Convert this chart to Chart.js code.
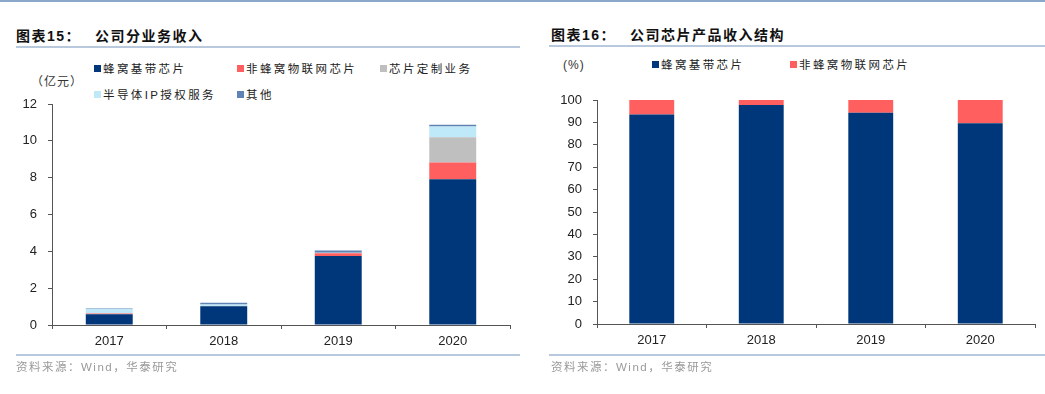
<!DOCTYPE html>
<html>
<head>
<meta charset="utf-8">
<script src="https://cdn.jsdelivr.net/npm/chart.js@4/dist/chart.umd.min.js"></script>
<style>
  body { margin: 0; background: #fff; width: 1045px; height: 394px; position: relative; overflow: hidden;
         font-family: "Liberation Sans", "Noto Sans CJK SC", sans-serif; }
  .abs { position: absolute; }
  .topline { left: 0; top: 0; width: 1045px; height: 2px; background: #8aa6c8; }
  .title { font-size: 14px; font-weight: bold; color: #111; letter-spacing: 1.5px; line-height: 16px; }
  .title span { margin-left: 14px; }
  .rule { height: 2px; background: #b9c9dd; }
  .source { font-size: 11.5px; color: #9a9a9a; letter-spacing: 1.5px; line-height: 14px; }
  .unit { font-size: 12px; color: #333; letter-spacing: 1px; line-height: 14px; }
  .leg { font-size: 11.5px; color: #222; letter-spacing: 2.4px; line-height: 14px; white-space: nowrap; }
  .leg i { display: inline-block; width: 7px; height: 7px; margin-right: 2px; vertical-align: 1px; }
  canvas { position: absolute; top: 0; }
</style>
</head>
<body>
<div class="abs topline"></div>

<div class="abs title" style="left:16px; top:28px;">图表15：<span>公司分业务收入</span></div>
<div class="abs rule" style="left:16px; top:46px; width:504px;"></div>
<div class="abs title" style="left:551px; top:27px;">图表16：<span>公司芯片产品收入结构</span></div>
<div class="abs rule" style="left:549px; top:45px; width:496px;"></div>

<div class="abs unit" style="left:31px; top:75px;">（亿元）</div>
<div class="abs unit" style="left:563px; top:58px;">(%)</div>
<div id="legLeft"></div>
<div id="legRight"></div>

<canvas id="revenue" width="520" height="394" style="left:0;"></canvas>
<canvas id="structure" width="520" height="394" style="left:525px;"></canvas>

<div class="abs rule" style="left:16px; top:354px; width:504px;"></div>
<div class="abs rule" style="left:549px; top:354px; width:496px;"></div>
<div class="abs source" style="left:16px; top:360px;">资料来源：Wind，华泰研究</div>
<div class="abs source" style="left:551px; top:360px;">资料来源：Wind，华泰研究</div>

<script>
const years = ['2017', '2018', '2019', '2020'];

// 图表15 公司分业务收入（亿元）
const cellularBaseband = [0.59, 1.02, 3.75, 7.92];
const nonCellularIoT   = [0.04, 0.01, 0.15, 0.90];
const chipCustom       = [0.00, 0.00, 0.00, 1.38];
const ipLicense        = [0.24, 0.08, 0.02, 0.58];
const otherBiz         = [0.03, 0.10, 0.12, 0.09];
const revenueTicks     = [0, 2, 4, 6, 8, 10, 12];

// 图表16 公司芯片产品收入结构（%）
const basebandShare    = [93.5, 97.8, 94.3, 89.6];
const iotShare         = [6.5, 2.2, 5.7, 10.4];
const shareTicks       = [0, 10, 20, 30, 40, 50, 60, 70, 80, 90, 100];

const navy = '#00377a', red = '#ff5f5f', grey = '#bfbfbf', sky = '#bfe9f8', steel = '#5f83b5';

function axes(max, step, yWidth) {
  const axisColor = '#555';
  return {
    x: {
      stacked: true,
      border: { color: axisColor, width: 1 },
      grid: { offset: true, drawOnChartArea: false, drawTicks: true, tickLength: 4, color: axisColor },
      ticks: { color: '#222', font: { size: 13, family: 'Liberation Sans' }, padding: 5, maxRotation: 0 },
      afterFit: s => { s.height = 30; }
    },
    y: {
      stacked: true, min: 0, max: max,
      border: { color: axisColor, width: 1 },
      grid: { drawOnChartArea: false, drawTicks: true, tickLength: 4, color: axisColor },
      ticks: { stepSize: step, color: '#222', font: { size: 13, family: 'Liberation Sans' }, padding: 11 },
      afterFit: s => { s.width = yWidth; }
    }
  };
}

function makeLegend(id, datasets, spots) {
  const box = document.getElementById(id);
  datasets.forEach((d, i) => {
    const el = document.createElement('div');
    el.className = 'abs leg';
    el.style.left = spots[i][0] + 'px';
    el.style.top = spots[i][1] + 'px';
    el.innerHTML = '<i style="background:' + d.backgroundColor + '"></i>' + d.label;
    box.appendChild(el);
  });
}

const revenueSets = [
  { label: '蜂窝基带芯片', data: cellularBaseband, backgroundColor: navy },
  { label: '非蜂窝物联网芯片', data: nonCellularIoT, backgroundColor: red },
  { label: '芯片定制业务', data: chipCustom, backgroundColor: grey },
  { label: '半导体IP授权服务', data: ipLicense, backgroundColor: sky },
  { label: '其他', data: otherBiz, backgroundColor: steel }
];
revenueSets.forEach(d => { d.barPercentage = 0.82; d.categoryPercentage = 0.5; });

const revOpts = axes(revenueTicks[revenueTicks.length - 1], revenueTicks[1] - revenueTicks[0], 52);
new Chart(document.getElementById('revenue'), {
  type: 'bar',
  data: { labels: years, datasets: revenueSets },
  options: {
    responsive: false, animation: false,
    layout: { padding: { top: 104, right: 10, bottom: 39, left: 0 } },
    plugins: { legend: { display: false }, tooltip: { enabled: false } },
    scales: revOpts
  }
});
makeLegend('legLeft', revenueSets, [[94, 62], [237, 62], [380, 62], [94, 88], [237, 88]]);

const shareSets = [
  { label: '蜂窝基带芯片', data: basebandShare, backgroundColor: navy },
  { label: '非蜂窝物联网芯片', data: iotShare, backgroundColor: red }
];
shareSets.forEach(d => { d.barPercentage = 0.82; d.categoryPercentage = 0.5; });

const shareOpts = axes(shareTicks[shareTicks.length - 1], shareTicks[1] - shareTicks[0], 72);
new Chart(document.getElementById('structure'), {
  type: 'bar',
  data: { labels: years, datasets: shareSets },
  options: {
    responsive: false, animation: false,
    layout: { padding: { top: 100, right: 10, bottom: 40, left: 0 } },
    plugins: { legend: { display: false }, tooltip: { enabled: false } },
    scales: shareOpts
  }
});
makeLegend('legRight', shareSets, [[652, 58], [790, 58]]);
</script>
</body>
</html>
